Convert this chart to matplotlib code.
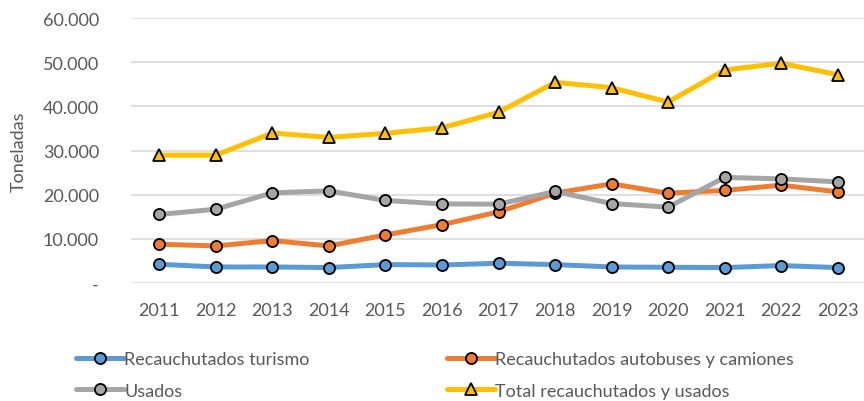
import matplotlib
matplotlib.use("Agg")
import matplotlib.pyplot as plt
from matplotlib.ticker import FuncFormatter

plt.rcParams['font.family'] = ['Lato', 'DejaVu Sans']

years = ["2011", "2012", "2013", "2014", "2015", "2016", "2017",
         "2018", "2019", "2020", "2021", "2022", "2023"]
turismo = [4240, 3630, 3630, 3490, 4170, 4080, 4470, 4170, 3630, 3560, 3490, 3950, 3490]
autobuses = [8780, 8390, 9610, 8390, 10880, 13200, 16100, 20340, 22450, 20340, 20950, 22150, 20640]
usados = [15510, 16710, 20410, 20860, 18680, 17910, 17850, 20720, 18000, 17170, 23900, 23580, 22900]
total = [28950, 28950, 33950, 32970, 33880, 35150, 38640, 45440, 44220, 40980, 48230, 49750, 47170]

fig = plt.figure(figsize=(8.64, 4.02), dpi=100)
ax = fig.add_axes([131 / 864, 1 - 284 / 402, (866 - 131) / 864, (284 - 19) / 402])

x = list(range(len(years)))
lw = 3.6
ms = 8
series = [
    (turismo, "#5B9BD5", "o", "Recauchutados turismo"),
    (autobuses, "#ED7D31", "o", "Recauchutados autobuses y camiones"),
    (usados, "#A5A5A5", "o", "Usados"),
    (total, "#FFC000", "^", "Total recauchutados y usados"),
]
handles = []
for vals, col, mk, lab in series:
    h, = ax.plot(x, vals, color=col, lw=lw, marker=mk, markersize=ms,
                 markerfacecolor=col, markeredgecolor="black", markeredgewidth=1.3,
                 label=lab, zorder=3, solid_capstyle="round")
    handles.append(h)

ax.set_xlim(-0.5, len(years) - 0.5)
ax.set_ylim(0, 60000)
ax.set_yticks(range(0, 60001, 10000))
ax.yaxis.set_major_formatter(FuncFormatter(
    lambda v, p: "-" if v == 0 else f"{int(v):,}".replace(",", ".")))
ax.set_xticks(x)
ax.set_xticklabels(years)
ax.grid(axis="y", color="#D9D9D9", lw=1.2, zorder=0)
for s in ax.spines.values():
    s.set_visible(False)
ax.tick_params(axis="both", length=0, labelsize=13, colors="#595959")
ax.tick_params(axis="x", pad=14)
ax.tick_params(axis="y", pad=23)
ax.set_ylabel("Toneladas", fontsize=13, color="#595959")
ax.yaxis.set_label_coords(-(131 - 27) / 735, 0.5)

order = [0, 2, 1, 3]
leg = fig.legend(handles=[handles[i] for i in order], loc="upper left", ncol=2,
                 bbox_to_anchor=(60 / 864, 1 - 336 / 402), frameon=False,
                 fontsize=13, handlelength=2.65, handletextpad=0.0,
                 columnspacing=7.6, labelspacing=0.85, labelcolor="#595959")

fig.savefig("out.png", dpi=100)
